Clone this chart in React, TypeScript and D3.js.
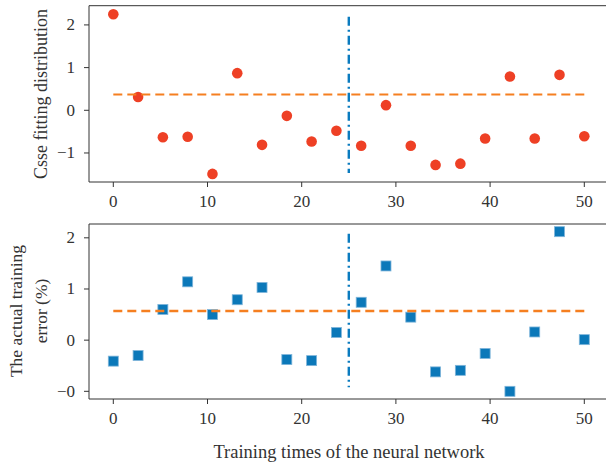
import React from "react";
import * as d3 from "d3";

const xValues = d3.range(20).map((i) => (50 * i) / 19);
const topValues = [2.25, 0.31, -0.63, -0.62, -1.49, 0.87, -0.81, -0.13, -0.73, -0.48, -0.83, 0.12, -0.83, -1.28, -1.25, -0.66, 0.79, -0.66, 0.83, -0.61];
const bottomValues = [-0.41, -0.3, 0.6, 1.14, 0.5, 0.79, 1.03, -0.38, -0.4, 0.15, 0.74, 1.45, 0.45, -0.62, -0.59, -0.26, -1.0, 0.16, 2.12, 0.01];
const topMean = 0.37;
const bottomMean = 0.57;
const splitX = 25;
const xTicks = [0, 10, 20, 30, 40, 50];
const topYTicks = [2, 1, 0, -1];
const topYTickLabels = ["2", "1", "0", "\u22121"];
const bottomYTicks = [2, 1, 0, -1];
const bottomYTickLabels = ["2", "1", "0", "\u22120"];
const topVRange = [2.19, -1.47];
const bottomVRange = [2.08, -0.92];

const FONT = "'Liberation Serif', 'DejaVu Serif', serif";
const LEFT = 89;
const RIGHT = 606;

export default function App() {
  const x = d3.scaleLinear().domain([0, 50]).range([113.3, 584.3]);
  const yTop = d3.scaleLinear().domain([-1.68, 2.45]).range([182, 5.7]);
  const yBot = d3.scaleLinear().domain([-1.15, 2.27]).range([399, 224]);

  const panel = (
    y: d3.ScaleLinear<number, number>,
    values: number[],
    mean: number,
    vr: number[],
    yTicks: number[],
    yLabels: string[],
    kind: "circle" | "square"
  ) => {
    const [y0, y1] = y.range();
    return (
      <g>
        <line x1={LEFT} x2={RIGHT} y1={y1} y2={y1} stroke="#333" strokeWidth={1} />
        <line x1={LEFT} x2={LEFT} y1={y1} y2={y0} stroke="#333" strokeWidth={1} />
        <line x1={LEFT} x2={RIGHT} y1={y0} y2={y0} stroke="#333" strokeWidth={1} />
        {xTicks.map((t) => (
          <g key={"x" + t}>
            <line x1={x(t)} x2={x(t)} y1={y0} y2={y0 + 5} stroke="#333" />
            <text x={x(t)} y={y0 + 25} textAnchor="middle" fontFamily={FONT} fontSize={17} fill="#333">
              {t}
            </text>
          </g>
        ))}
        {yTicks.map((t, i) => (
          <g key={"y" + t}>
            <line x1={LEFT - 5} x2={LEFT} y1={y(t)} y2={y(t)} stroke="#333" />
            <text x={LEFT - 14} y={y(t) + 5.5} textAnchor="end" fontFamily={FONT} fontSize={17} fill="#333">
              {yLabels[i]}
            </text>
          </g>
        ))}
        {values.map((v, i) =>
          kind === "circle" ? (
            <circle key={i} cx={x(xValues[i])} cy={y(v)} r={5.3} fill="#ee4025" />
          ) : (
            <rect
              key={i}
              x={x(xValues[i]) - 5}
              y={y(v) - 5}
              width={10}
              height={10}
              fill="#0b78b9"
              stroke="#7fb5da"
              strokeWidth={0.8}
            />
          )
        )}
        <line
          x1={x(0)}
          x2={x(50)}
          y1={y(mean)}
          y2={y(mean)}
          stroke="#f57f20"
          strokeWidth={kind === "circle" ? 2 : 2.6}
          strokeDasharray="9,5"
        />
        <line
          x1={x(splitX)}
          x2={x(splitX)}
          y1={y(vr[0])}
          y2={y(vr[1])}
          stroke="#0a7bbf"
          strokeWidth={2.4}
          strokeDasharray="9,4,2,4"
        />
      </g>
    );
  };

  return (
    <svg width={606} height={464} style={{ position: "absolute", left: 0, top: 0 }}>
      <rect width={606} height={464} fill="#fff" />
      {panel(yTop, topValues, topMean, topVRange, topYTicks, topYTickLabels, "circle")}
      {panel(yBot, bottomValues, bottomMean, bottomVRange, bottomYTicks, bottomYTickLabels, "square")}
      <text transform="translate(47,94) rotate(-90)" textAnchor="middle" fontFamily={FONT} fontSize={18} fill="#333">
        Csse fitting distribution
      </text>
      <text transform="translate(22,311) rotate(-90)" textAnchor="middle" fontFamily={FONT} fontSize={17.5} fill="#333">
        The actual training
      </text>
      <text transform="translate(47,311) rotate(-90)" textAnchor="middle" fontFamily={FONT} fontSize={17.5} fill="#333">
        error (%)
      </text>
      <text x={349} y={458} textAnchor="middle" fontFamily={FONT} fontSize={18.5} fill="#333">
        Training times of the neural network
      </text>
    </svg>
  );
}
